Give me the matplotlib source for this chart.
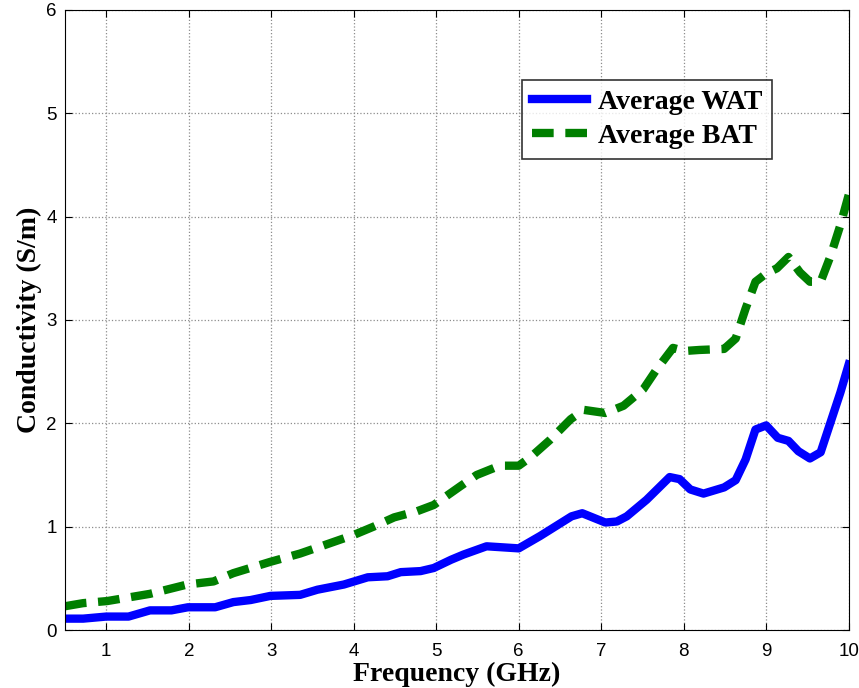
import matplotlib
matplotlib.use("Agg")
import matplotlib.pyplot as plt

# frequency (GHz) and conductivity (S/m)
freq_wat = [0.5, 0.72, 1.0, 1.27, 1.53, 1.79, 1.99, 2.32, 2.54, 2.75, 2.99, 3.35, 3.56, 3.88,
            4.17, 4.41, 4.57, 4.81, 4.97, 5.18, 5.33, 5.61, 6.0, 6.26, 6.42, 6.64, 6.77,
            7.05, 7.19, 7.31, 7.55, 7.83, 7.95, 8.08, 8.24, 8.49, 8.63, 8.75, 8.87, 9.0,
            9.14, 9.27, 9.39, 9.53, 9.66, 9.78, 9.9, 10.0]
wat = [0.11, 0.11, 0.13, 0.13, 0.19, 0.19, 0.22, 0.22, 0.27, 0.29, 0.33, 0.34, 0.39, 0.44,
       0.51, 0.52, 0.56, 0.57, 0.60, 0.68, 0.73, 0.81, 0.79, 0.91, 0.99, 1.10, 1.13,
       1.04, 1.05, 1.10, 1.26, 1.48, 1.46, 1.36, 1.32, 1.38, 1.45, 1.65, 1.94, 1.98,
       1.86, 1.83, 1.73, 1.66, 1.72, 2.01, 2.30, 2.57]

freq_bat = [0.5, 0.72, 1.01, 1.53, 1.98, 2.30, 2.54, 2.99, 3.35, 3.64, 4.0, 4.24, 4.49,
            4.77, 4.97, 5.29, 5.49, 5.77, 6.0, 6.14, 6.38, 6.63, 6.79, 7.05, 7.27, 7.51,
            7.67, 7.87, 8.01, 8.19, 8.49, 8.63, 8.75, 8.87, 9.0, 9.13, 9.27, 9.41, 9.53,
            9.66, 9.78, 9.9, 10.0]
bat = [0.23, 0.26, 0.28, 0.35, 0.44, 0.47, 0.55, 0.66, 0.74, 0.82, 0.92, 1.0, 1.09,
       1.15, 1.21, 1.39, 1.50, 1.59, 1.59, 1.67, 1.84, 2.04, 2.13, 2.10, 2.17, 2.33,
       2.52, 2.73, 2.70, 2.71, 2.72, 2.82, 3.11, 3.37, 3.45, 3.50, 3.61, 3.46, 3.37,
       3.37, 3.62, 3.92, 4.21]

xticks = [1, 2, 3, 4, 5, 6, 7, 8, 9, 10]
yticks = [0, 1, 2, 3, 4, 5, 6]

fig = plt.figure(figsize=(8.59, 6.88), dpi=100)
ax = fig.add_axes([0.0757, 0.0843, 0.9123, 0.9012])

ax.plot(freq_wat, wat, color="#0000ff", lw=6, label="Average WAT")
ax.plot(freq_bat, bat, color="#007f00", lw=6, dashes=(2.6, 1.4), label="Average BAT")

ax.set_xlim(0.5, 10)
ax.set_ylim(0, 6)
ax.set_xticks(xticks)
ax.set_yticks(yticks)
ax.tick_params(direction="in", top=True, right=True, labelsize=13.5, length=5)
ax.tick_params(axis="x", pad=9)
ax.tick_params(axis="y", pad=6)
for lab in ax.get_xticklabels() + ax.get_yticklabels():
    lab.set_family("Liberation Sans")
ax.grid(True, color="#8c8c8c", linestyle=":", linewidth=0.9)

serif = {"family": "Liberation Serif", "weight": "bold", "size": 20}
ax.set_xlabel("Frequency (GHz)", fontdict=serif, labelpad=2)
ax.set_ylabel("Conductivity (S/m)", fontdict=serif, labelpad=3)

leg = ax.legend(loc="upper left", bbox_to_anchor=(0.583, 0.887), borderaxespad=0,
                prop={"family": "Liberation Serif", "weight": "bold", "size": 20},
                frameon=True, fancybox=False, edgecolor="black",
                handlelength=2.0, borderpad=0.35, labelspacing=0.3, handletextpad=0.4)
leg.get_frame().set_linewidth(1.2)

fig.savefig("out.png", dpi=100)
